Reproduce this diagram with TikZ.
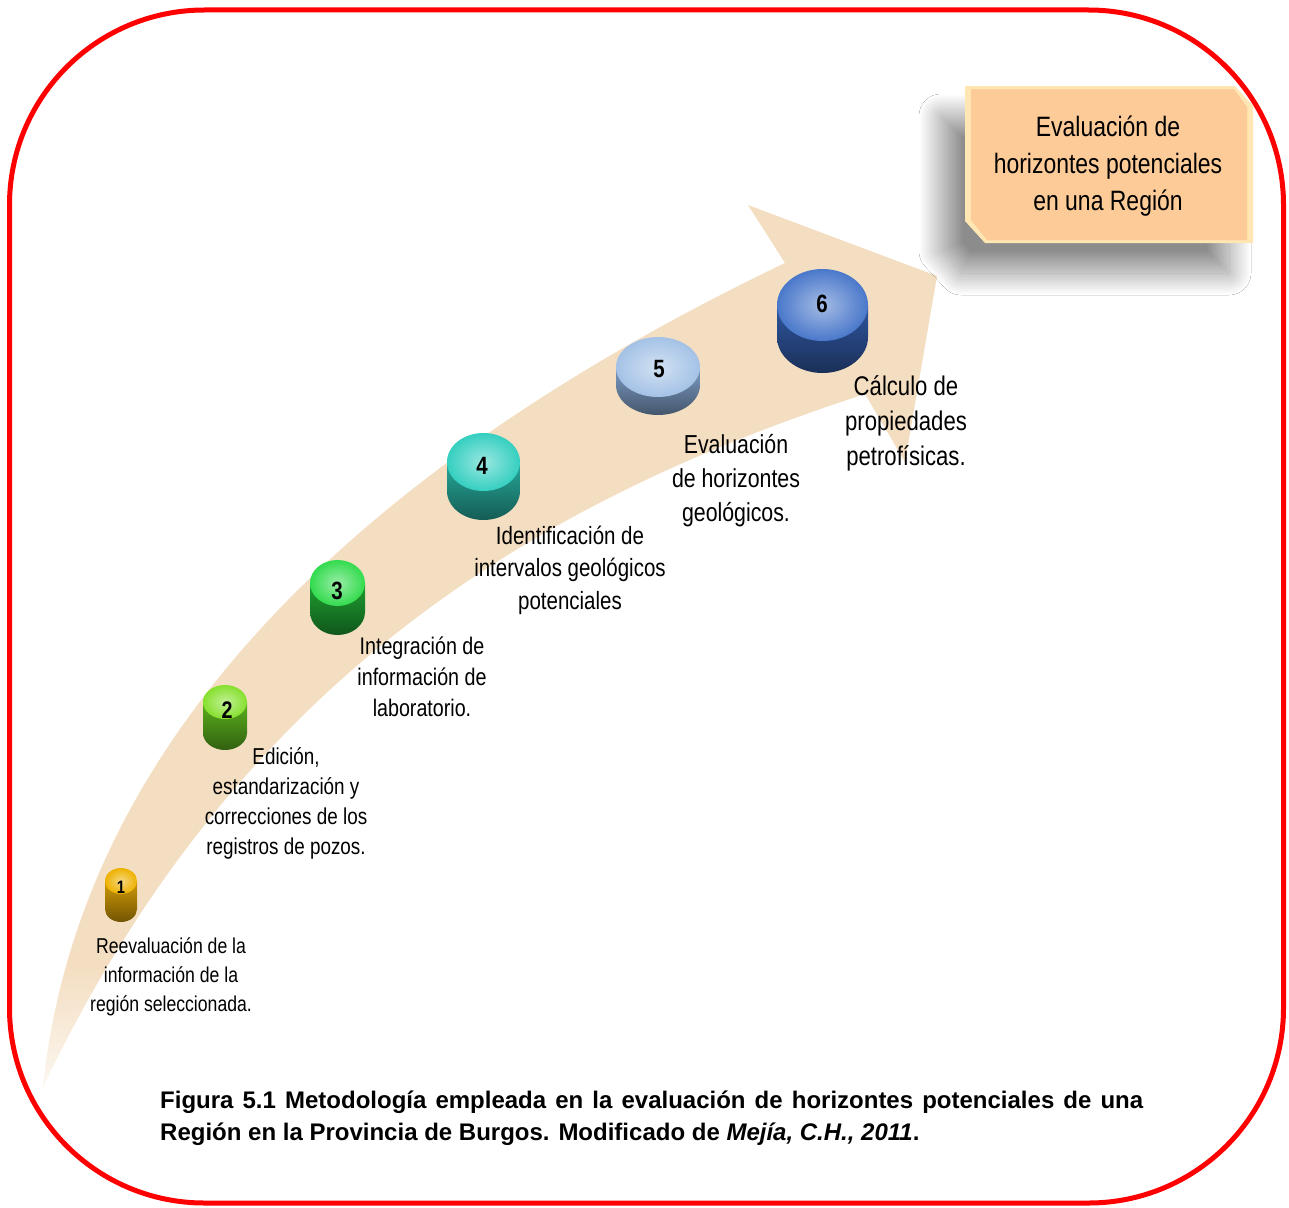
\documentclass[tikz,border=0pt]{standalone}
\usepackage{fontspec}
\setmainfont{Liberation Sans}
\newfontfamily\narrowsans[FakeStretch=0.82]{Liberation Sans}
\usetikzlibrary{shadows.blur,fadings}

\definecolor{band}{HTML}{F4DEC1}
\definecolor{frame}{HTML}{FF0000}
\definecolor{boxfill}{HTML}{FDCB98}
\definecolor{boxedge}{HTML}{FFE6B2}
\definecolor{topA}{HTML}{EDB100}\definecolor{sideA}{HTML}{D09A06}
\definecolor{topB}{HTML}{86E02E}\definecolor{sideB}{HTML}{5BB01E}
\definecolor{topC}{HTML}{33DB4E}\definecolor{sideC}{HTML}{1E9E30}
\definecolor{topD}{HTML}{35CFC0}\definecolor{sideD}{HTML}{26A89A}
\definecolor{topE}{HTML}{A4C2E6}\definecolor{sideE}{HTML}{7C9CC4}
\definecolor{topF}{HTML}{4A78CA}\definecolor{sideF}{HTML}{2F569F}

% drum: #1 x centre, #2 y of top face centre, #3 x radius, #4 y radius,
% #5 side height, #6 top colour, #7 side colour
\newcommand\drum[7]{%
  \shade[top color=#7, bottom color=#7!55!black]
    ({#1-#3},{-#2}) -- ({#1-#3},{-#2-#5})
    arc[start angle=180, end angle=360, x radius=#3, y radius=#4]
    -- ({#1+#3},{-#2}) -- cycle;
  \shade[inner color=#6!50!white, outer color=#6] (#1,-#2) ellipse[x radius=#3, y radius=#4];
}

\begin{document}
\begin{tikzpicture}[x=1pt,y=1pt,
  steptext/.style 2 args={align=center, inner sep=0, text=black,
    font=\narrowsans\fontsize{#1}{#2}\selectfont},
  num/.style={inner sep=0, text=black, font=\narrowsans\bfseries\fontsize{#1}{#1}\selectfont},
  captext/.style={anchor=base west, inner sep=0, font=\bfseries\fontsize{24}{28}\selectfont}]

\useasboundingbox (0,0) rectangle (1289,-1207);
\fill[white] (0,0) rectangle (1289,-1207);

% curved arrow band
\fill[band] (43,-1087) .. controls (82,-709) and (407,-444) .. (785,-263)
  -- (748,-205) -- (937,-276) -- (905,-462) -- (865,-394)
  .. controls (532,-502) and (236,-682) .. (43,-1087) -- cycle;
% faded tail
\fill[white, path fading=north, fill opacity=0.85] (25,-1100) rectangle (115,-965);

% goal box
\fill[boxedge, blur shadow={shadow xshift=-24pt, shadow yshift=-30pt,
    shadow blur radius=22pt, shadow blur steps=50, shadow opacity=45}]
  (965,-86) -- (1235,-86) -- (1253,-106) -- (1253,-243) -- (985,-243) -- (965,-221) -- cycle;
\fill[boxfill]
  (971,-89) -- (1234,-89) -- (1247,-107) -- (1247,-240) -- (987,-240) -- (971,-220) -- cycle;
\node[steptext={28}{37}] (goal) at (1108,-166) {Evaluación de\\horizontes potenciales\\en una Región};

% steps
\drum{121}{881}{16}{13}{28}{topA}{sideA}
\node[num=18] (d1) at (121,-887) {1};
\drum{225}{702}{22}{17}{31}{topB}{sideB}
\node[num=24] (d2) at (227,-710) {2};
\drum{337.5}{583}{27.5}{23}{29}{topC}{sideC}
\node[num=25] (d3) at (337,-591) {3};
\drum{483.5}{462}{36.5}{29}{29}{topD}{sideD}
\node[num=25] (d4) at (482,-466) {4};
\drum{658}{367}{42}{30}{18}{topE}{sideE}
\node[num=25] (d5) at (659,-369) {5};
\drum{822.5}{305}{45.5}{36}{32}{topF}{sideF}
\node[num=25] (d6) at (822,-304) {6};

\node[steptext={21.5}{29}] (t1) at (171,-977) {Reevaluación de la\\información de la\\región seleccionada.};
\node[steptext={23}{30}] (t2) at (286,-803) {Edición,\\estandarización y\\correcciones de los\\registros de pozos.};
\node[steptext={24}{31}] (t3) at (422,-677) {Integración de\\información de\\laboratorio.};
\node[steptext={25}{32.5}] (t4) at (570,-570) {Identificación de\\intervalos geológicos\\potenciales};
\node[steptext={26}{34}] (t5) at (736,-481) {Evaluación\\de horizontes\\geológicos.};
\node[steptext={27}{35}] (t6) at (906,-423) {Cálculo de\\propiedades\\petrofísicas.};

% caption
\node[captext] (cap1) at (160,-1108)
  {\makebox[983pt][s]{Figura 5.1 Metodología empleada en la evaluación de horizontes potenciales de una}};
\node[captext] (cap2) at (160,-1140)
  {Región en la Provincia de Burgos. Modificado de \textit{Mejía, C.H., 2011}.};

% frame
\draw[frame, line width=5pt, rounded corners=195pt] (9.5,-10) rectangle (1283.5,-1203);
\end{tikzpicture}
\end{document}
